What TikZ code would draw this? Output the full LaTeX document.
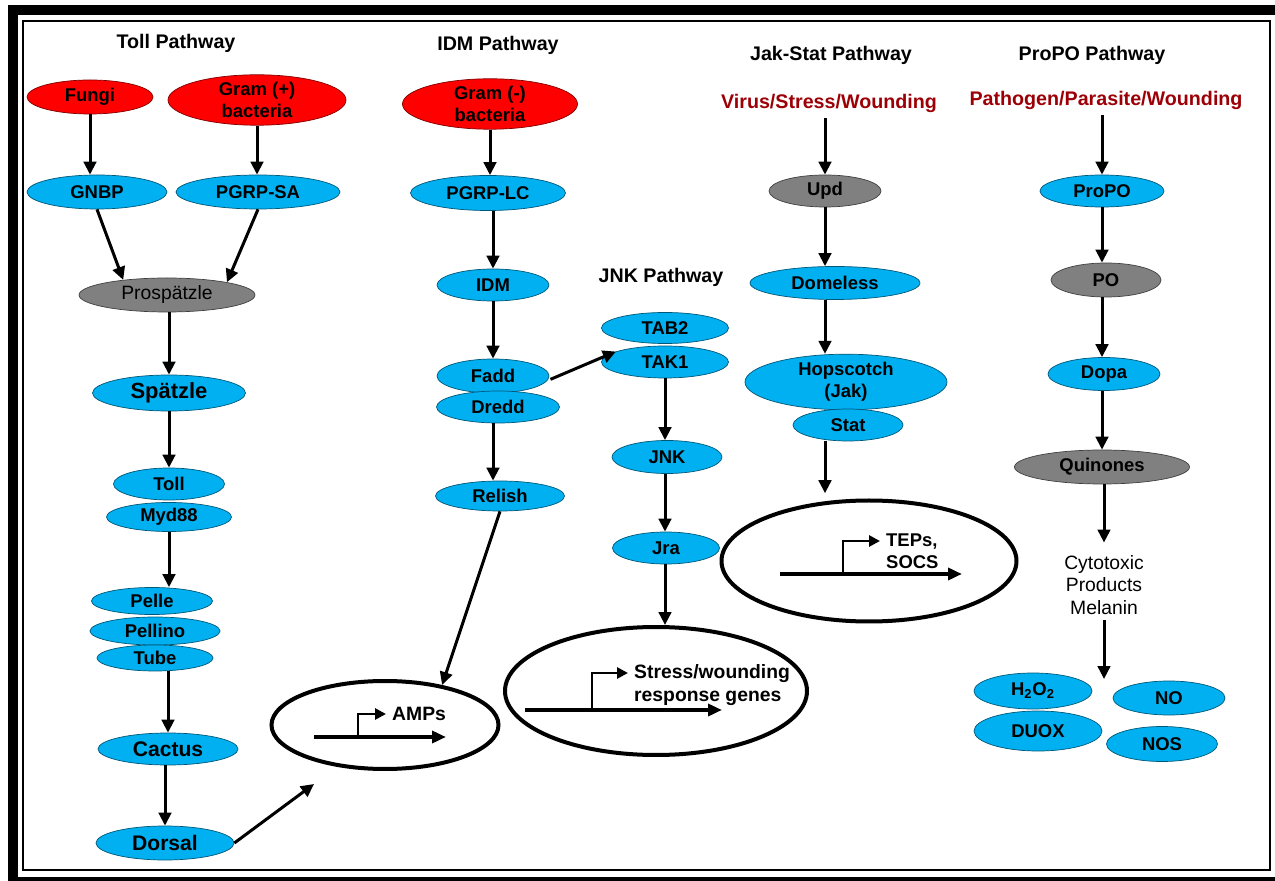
\documentclass[tikz,border=0pt]{standalone}
\usepackage{fontspec}
\setmainfont{Liberation Sans}
\usetikzlibrary{arrows.meta, shapes.geometric, calc}
\definecolor{cellBlue}{HTML}{00B0F0}
\definecolor{cellRed}{HTML}{FF0000}
\definecolor{cellGray}{HTML}{808080}
\definecolor{stimRed}{HTML}{9C0006}
\pgfdeclareradialshading{cellBlueShade}{\pgfpoint{0bp}{0bp}}{color(0bp)=(cellBlue); color(36bp)=(cellBlue); color(50bp)=(cellBlue!50!black)}
\pgfdeclareradialshading{cellRedShade}{\pgfpoint{0bp}{0bp}}{color(0bp)=(cellRed); color(36bp)=(cellRed); color(50bp)=(cellRed!50!black)}
\pgfdeclareradialshading{cellGrayShade}{\pgfpoint{0bp}{0bp}}{color(0bp)=(cellGray); color(36bp)=(cellGray); color(50bp)=(cellGray!50!black)}

\begin{document}
\begin{tikzpicture}[
    x=0.02cm, y=-0.02cm,
    font=\fontsize{10.5}{12.6}\selectfont\bfseries,
    cell/.style={ellipse, inner sep=0pt, align=center, shading=#1Shade,
                 draw=#1!50!black, line width=0.4pt},
    wh/.style 2 args={minimum width=#1*0.02cm, minimum height=#2*0.02cm},
    big/.style={font=\fontsize{12}{14}\selectfont\bfseries},
    head/.style={font=\fontsize{11.2}{13}\selectfont\bfseries},
    plain/.style={font=\fontsize{11}{12.6}\selectfont\mdseries},
    locus/.style={ellipse, draw, line width=0.08cm, fill=white},
    arr/.style={-{Triangle[width=0.25cm,length=0.26cm]}, line width=0.06cm},
    gene/.style={-{Triangle[width=0.24cm,length=0.28cm]}, line width=0.08cm},
    promo/.style={-{Triangle[width=0.22cm,length=0.22cm]}, line width=0.055cm}
  ]
  % frame
  \useasboundingbox (0,0) rectangle (1275,881);
  \begin{scope}
    \clip (0,0) rectangle (1275,881);
    \draw[line width=0.2cm] (13,10) rectangle (1282,882);
  \end{scope}
  \draw[line width=0.05cm] (23,21) rectangle (1270,870);

  % Toll pathway
  \node[head] (tollT) at (176,43) {Toll Pathway};
  \node[cell=cellRed, wh={126}{34}] (fungi) at (90,97) {Fungi};
  \node[cell=cellRed, wh={178}{47}] (gramp) at (257,100) {Gram (+)\\bacteria};
  \node[cell=cellBlue, wh={140}{34}] (gnbp) at (97,192) {GNBP};
  \node[cell=cellBlue, wh={164}{34}] (pgrpsa) at (258,192) {PGRP-SA};
  \node[cell=cellGray, wh={176}{34}, plain] (prosp) at (167,295) {Prospätzle};
  \node[cell=cellBlue, wh={153}{36}, font=\fontsize{12.5}{14}\selectfont\bfseries] (spatzle) at (169,393) {Spätzle};
  \node[cell=cellBlue, wh={111}{32}] (toll) at (169,484) {Toll};
  \node[cell=cellBlue, wh={125}{29}] (myd) at (169,517) {Myd88};
  \node[cell=cellBlue, wh={121}{27}] (pelle) at (152,601) {Pelle};
  \node[cell=cellBlue, wh={130}{28}] (pellino) at (155,631) {Pellino};
  \node[cell=cellBlue, wh={116}{26}] (tube) at (155,658) {Tube};
  \node[cell=cellBlue, wh={140}{32}, big] (cactus) at (168,749) {Cactus};
  \node[cell=cellBlue, wh={138}{34}, big] (dorsal) at (165,843) {Dorsal};

  % IDM pathway
  \node[head] (idmT) at (498,45) {IDM Pathway};
  \node[cell=cellRed, wh={175}{46}] (gramn) at (490,104) {Gram (-)\\bacteria};
  \node[cell=cellBlue, wh={155}{35}] (pgrplc) at (488,193) {PGRP-LC};
  \node[cell=cellBlue, wh={112}{32}] (idm) at (493,285) {IDM};
  \node[cell=cellBlue, wh={112}{34}] (fadd) at (493,376) {Fadd};
  \node[cell=cellBlue, wh={123}{32}] (dredd) at (498,407) {Dredd};
  \node[cell=cellBlue, wh={129}{30}] (relish) at (500,496) {Relish};

  % AMPs locus
  \node[locus, wh={227}{88}] (amps) at (385,725) {};
  \node[anchor=west, font=\fontsize{11}{13}\selectfont\bfseries] (ampsTxt) at (386,714) {AMPs};
  \coordinate (ampsIn) at (314,784);
  \draw[gene] (314,737) -- (446,737);
  \draw[promo] (358,737) |- (ampsTxt.west);

  % JNK pathway
  \node[head] (jnkT) at (661,277) {JNK Pathway};
  \node[cell=cellBlue, wh={127}{31}] (tab2) at (665,328) {TAB2};
  \node[cell=cellBlue, wh={127}{32}] (tak1) at (665,362) {TAK1};
  \node[cell=cellBlue, wh={110}{33}] (jnk) at (667,457) {JNK};
  \node[cell=cellBlue, wh={107}{32}] (jra) at (666,548) {Jra};

  % stress locus
  \node[locus, wh={302}{128}] (stress) at (656,691) {};
  \node[anchor=west, align=left, font=\fontsize{11}{12.6}\selectfont\bfseries] (stressTxt) at (628,685) {Stress/wounding\\response genes};
  \draw[gene] (525,710) -- (722,710);
  \draw[promo] (592,710) |- ($(stressTxt.west)+(0,-12)$);

  % Jak-Stat pathway
  \node[head] (jakT) at (831,55) {Jak-Stat Pathway};
  \node[head, text=stimRed] (virus) at (829,103) {Virus/Stress/Wounding};
  \node[cell=cellGray, wh={112}{32}] (upd) at (825,191) {Upd};
  \node[cell=cellBlue, wh={170}{33}] (dome) at (835,283) {Domeless};
  \node[cell=cellBlue, wh={202}{50}] (hop) at (846,382) {Hopscotch\\(Jak)};
  \node[cell=cellBlue, wh={110}{32}] (stat) at (848,425) {Stat};

  % TEPs locus
  \node[locus, wh={295}{121}] (teps) at (869,561) {};
  \node[anchor=west, align=left] (tepsTxt) at (880,551) {TEPs,\\SOCS};
  \draw[gene] (780,574) -- (962,574);
  \draw[promo] (843,574) |- ($(tepsTxt.west)+(0,-10)$);

  % ProPO pathway
  \node[head] (propoT) at (1092,55) {ProPO Pathway};
  \node[head, text=stimRed] (patho) at (1106,100) {Pathogen/Parasite/Wounding};
  \node[cell=cellBlue, wh={124}{32}] (propo) at (1102,191) {ProPO};
  \node[cell=cellGray, wh={110}{34}] (po) at (1106,280) {PO};
  \node[cell=cellBlue, wh={112}{33}] (dopa) at (1104,374) {Dopa};
  \node[cell=cellGray, wh={175}{34}] (quin) at (1102,467) {Quinones};
  \node[plain, align=center] (cyto) at (1104,585) {Cytotoxic\\Products\\Melanin};
  \coordinate (ros) at (1104,679);
  \node[cell=cellBlue, wh={118}{36}] (h2o2) at (1033,691) {H\textsubscript{2}O\textsubscript{2}};
  \node[cell=cellBlue, wh={128}{40}] (duox) at (1038,731) {DUOX};
  \node[cell=cellBlue, wh={112}{34}] (no) at (1169,698) {NO};
  \node[cell=cellBlue, wh={111}{35}] (nos) at (1162,744) {NOS};

  % connectors
  \draw[arr] (fungi.south) -- (fungi.south |- gnbp.north);
  \draw[arr] (gramp.south) -- (gramp.south |- pgrpsa.north);
  \draw[arr] (gnbp.south) -- (prosp.161);
  \draw[arr] (pgrpsa.south) -- (prosp.12);
  \draw[arr] (spatzle.north |- prosp.south) -- (spatzle.north);
  \draw[arr] (spatzle.south) -- (toll.north);
  \draw[arr] (myd.south) -- (myd.south |- pelle.north);
  \draw[arr] (cactus.north |- tube.south) -- (cactus.north);
  \draw[arr] (dorsal.north |- cactus.south) -- (dorsal.north);
  \draw[arr] (dorsal.east) -- (ampsIn);

  \draw[arr] (gramn.south) -- (gramn.south |- pgrplc.north);
  \draw[arr] (idm.north |- pgrplc.south) -- (idm.north);
  \draw[arr] (idm.south) -- (fadd.north);
  \draw[arr] (idm.south |- dredd.south) -- (idm.south |- relish.north);
  \draw[arr] (relish.south) -- (amps.35);
  \draw[arr, shorten <=2pt] (fadd.-5) -- (tak1.168);

  \draw[arr] (tak1.south) -- (tak1.south |- jnk.north);
  \draw[arr] (tak1.south |- jnk.south) -- (tak1.south |- jra.north);
  \draw[arr] (tak1.south |- jra.south) -- (tak1.south |- stress.north);

  \draw[arr] (upd.north |- virus.south) -- (upd.north);
  \draw[arr] (upd.south) -- (upd.south |- dome.north);
  \draw[arr] (upd |- dome.south) -- (upd |- hop.north);
  \draw[arr, shorten >=3pt] (upd |- stat.south) -- (upd |- teps.north);

  \draw[arr] (propo.north |- patho.south) -- (propo.north);
  \draw[arr] (propo.south) -- (propo.south |- po.north);
  \draw[arr] (propo |- po.south) -- (propo |- dopa.north);
  \draw[arr] (propo |- dopa.south) -- (propo |- quin.north);
  \draw[arr, shorten >=4pt] (cyto.north |- quin.south) -- (cyto.north);
  \draw[arr] (cyto.south) -- (ros);
\end{tikzpicture}
\end{document}
